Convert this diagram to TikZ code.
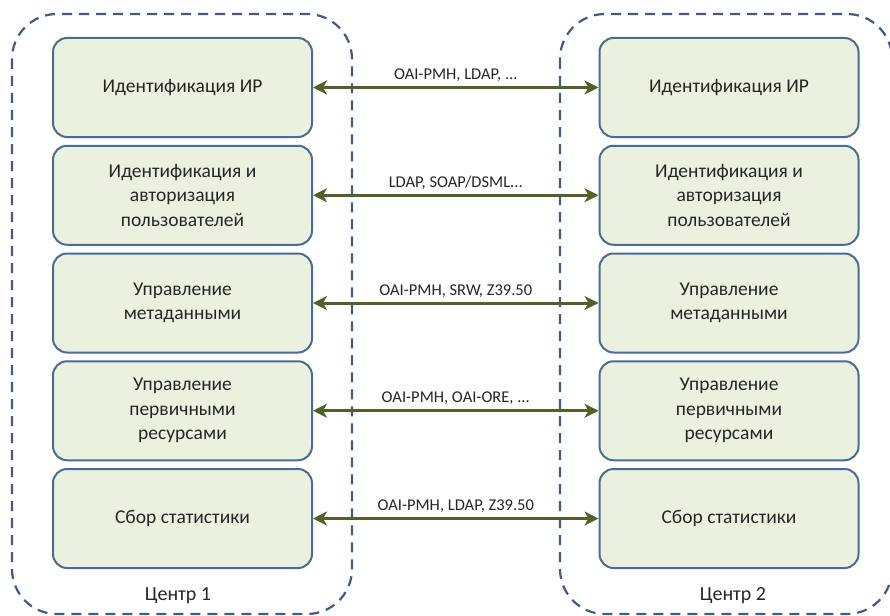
\documentclass[tikz,border=0pt]{standalone}
\usepackage{fontspec}
\setmainfont{Carlito}
\usetikzlibrary{arrows.meta}
\definecolor{boxfill}{HTML}{EBF1DE}
\definecolor{boxline}{HTML}{4A6B94}
\definecolor{hubline}{HTML}{3E5C85}
\definecolor{linkgreen}{HTML}{4F6228}
\tikzset{
  func/.style={draw=boxline, line width=2pt, fill=boxfill, rounded corners=14pt,
    minimum width=259pt, minimum height=99pt, align=center, text=black!85,
    font=\fontsize{19.5}{24.5}\selectfont},
  hub/.style={draw=hubline, line width=2.2pt, dash pattern=on 10pt off 7pt,
    rounded corners=45pt},
  link/.style={draw=linkgreen, line width=3pt,
    {Stealth[length=14pt,width=14pt,inset=4pt]}-{Stealth[length=14pt,width=14pt,inset=4pt]}},
  proto/.style={text=black!85, font=\fontsize{16.5}{19}\selectfont},
  hubname/.style={text=black!85, font=\fontsize{20}{24}\selectfont}
}
\begin{document}
\begin{tikzpicture}[x=1pt,y=-1pt]
  \useasboundingbox (0,0) rectangle (890,615);
  \clip (0,0) rectangle (890,615);
  % two centres
  \draw[hub] (12,14) rectangle (352,614);
  \draw[hub] (560,14) rectangle (892,614);
  \node[hubname] (hubA) at (178,596) {Центр 1};
  \node[hubname] (hubB) at (733,596) {Центр 2};
  % services and protocols
  \foreach \i/\txt/\prot in {
      1/{Идентификация ИР}/{OAI-PMH, LDAP, ...},
      2/{Идентификация и\\авторизация\\пользователей}/{LDAP, SOAP/DSML...},
      3/{Управление\\метаданными}/{OAI-PMH, SRW, Z39.50},
      4/{Управление\\первичными\\ресурсами}/{OAI-PMH, OAI-ORE, ...},
      5/{Сбор статистики}/{OAI-PMH, LDAP, Z39.50}}{
    \node[func] (left\i) at (182.5,{87.5+107.75*(\i-1)}) {\txt};
    \node[func] (right\i) at (729,{87.5+107.75*(\i-1)}) {\txt};
    \draw[link] (left\i) -- node[proto, above=1pt] (prot\i) {\prot} (right\i);
  }
\end{tikzpicture}
\end{document}
